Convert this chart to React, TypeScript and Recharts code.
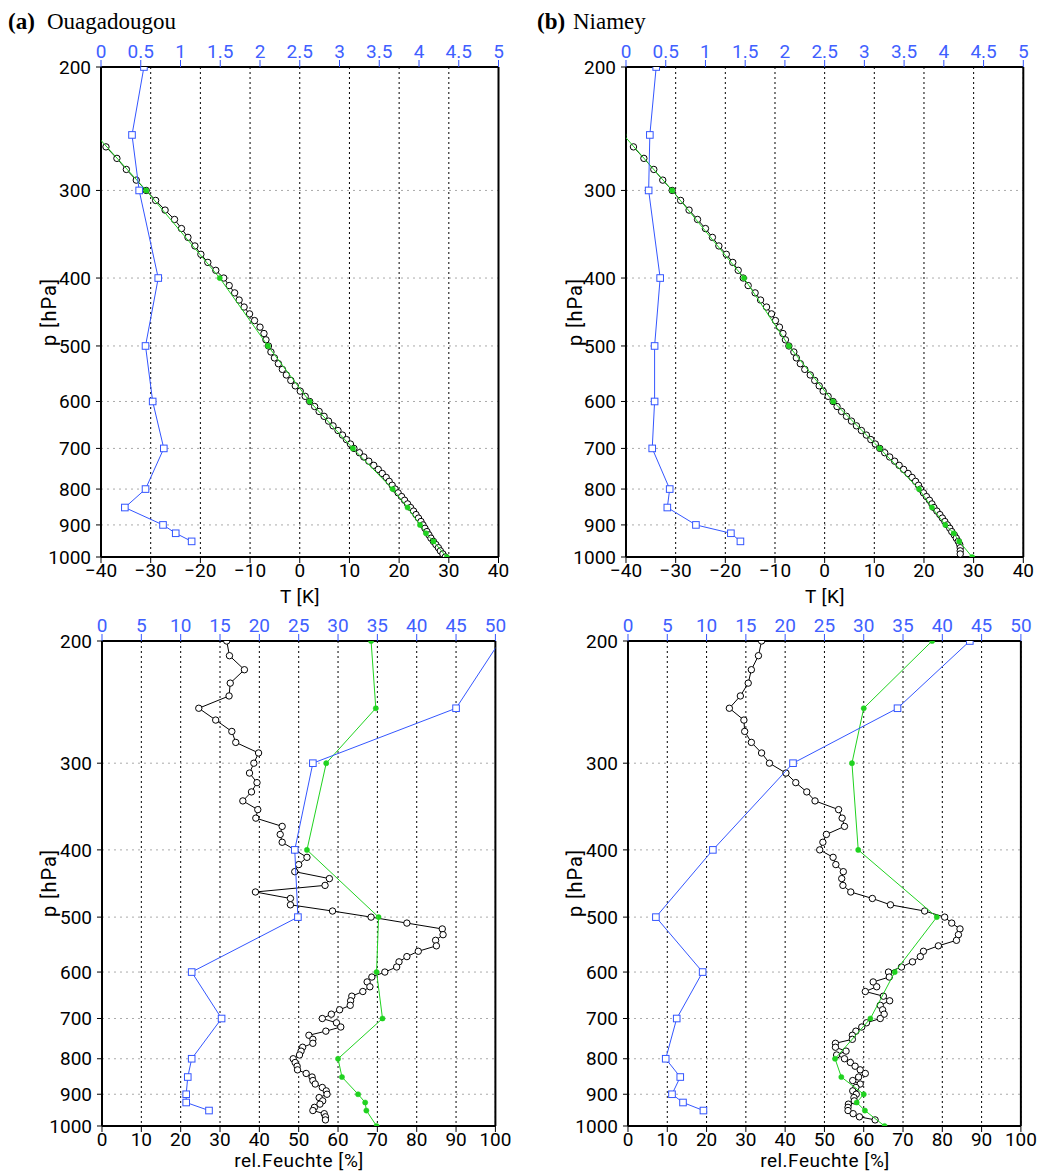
import React from 'react';
import { ScatterChart, Scatter, XAxis, YAxis, CartesianGrid } from 'recharts';

// ---------- ticks ----------
const pTicks = [200, 300, 400, 500, 600, 700, 800, 900, 1000];
const tTicks = [-40, -30, -20, -10, 0, 10, 20, 30, 40];
const qTicks = [0, 0.5, 1, 1.5, 2, 2.5, 3, 3.5, 4, 4.5, 5];
const rhTicks = [0, 10, 20, 30, 40, 50, 60, 70, 80, 90, 100];
const rhTopTicks = [0, 5, 10, 15, 20, 25, 30, 35, 40, 45, 50];

// ---------- pressure levels ----------
const levelsTa = [260,270,280,290,300,310,320,330,340,350,360,370,380,390,400,410,420,430,440,450,460,470,480,490,500,510,520,530,540,550,560,570,580,590,600,610,620,630,640,650,660,670,680,690,700,710,720,730,740,750,760,770,780,790,800,810,820,830,840,850,860,870,880,890,900,910,920,930,940,950,960,970,980,990,1000];
const levelsTb = [260,270,280,290,300,310,320,330,340,350,360,370,380,390,400,410,420,430,440,450,460,470,480,490,500,510,520,530,540,550,560,570,580,590,600,610,620,630,640,650,660,670,680,690,700,710,720,730,740,750,760,770,780,790,800,810,820,830,840,850,860,870,880,890,900,910,920,930,940,950,960,970,980,990];
const levelsRH = [200,210,220,230,240,250,260,270,280,290,300,310,320,330,340,350,360,370,380,390,400,410,420,430,440,450,460,470,480,490,500,510,520,530,540,550,560,570,580,590,600,610,620,630,640,650,660,670,680,690,700,710,720,730,740,750,760,770,780,790,800,810,820,830,840,850,860,870,880,890,900,910,920,930,940,950,960,970,980];
const stdT = [250, 300, 400, 500, 600, 700, 800, 850, 900, 925, 950, 1000];
const stdQ = [200, 250, 300, 400, 500, 600, 700, 800, 850, 900, 925, 950];
const stdRH = [200, 250, 300, 400, 500, 600, 700, 800, 850, 900, 925, 950, 1000];

// ---------- (a) Ouagadougou ----------
const tempA = [
  -39.0,-36.8,-34.9,-32.9,-30.9,-29.0,-27.1,-25.2,-23.8,-22.5,
  -21.1,-19.9,-18.5,-16.9,-15.3,-14.2,-13.1,-12.2,-11.2,-10.1,
  -9.1,-8.0,-7.2,-6.8,-6.3,-5.8,-5.1,-4.3,-3.5,-2.7,
  -1.8,-0.9,0.1,1.1,2.0,3.0,3.9,4.9,5.8,6.7,
  7.7,8.6,9.4,10.2,10.9,12.0,12.9,13.9,14.9,15.8,
  16.6,17.4,18.0,18.6,19.2,19.8,20.5,21.1,21.7,22.3,
  22.9,23.4,23.9,24.4,24.8,25.2,25.6,26.0,26.4,26.9,
  27.4,27.9,28.3,28.8,29.3,
];
const tempStdA = [-41.0, -30.9, -16.1, -6.4, 2.0, 10.7, 18.7, 21.7, 24.2, 25.4, 26.9, 29.6];
const qA = [0.54, 0.39, 0.48, 0.72, 0.56, 0.65, 0.79, 0.56, 0.30, 0.78, 0.94, 1.14];
const rhA = [
  31.7,32.4,36.2,32.6,32.3,24.6,28.9,33.0,34.0,39.8,
  38.6,37.5,39.4,38.0,35.8,39.6,39.1,45.8,45.3,45.8,
  49.0,52.1,50.0,49.0,57.8,56.7,39.0,47.9,47.9,58.6,
  68.4,77.5,86.5,86.7,84.8,85.0,80.4,77.5,75.5,74.9,
  71.9,68.6,67.4,68.1,66.3,63.5,63.2,63.1,60.4,58.3,
  56.0,59.6,60.7,56.9,52.6,53.6,53.6,51.0,50.6,50.2,
  48.6,49.1,49.6,49.7,51.9,53.4,53.6,54.2,56.0,57.0,
  57.2,55.2,56.1,55.4,54.0,53.6,56.5,56.8,56.8,
];
const rhStdA = [68.4, 69.6, 57.0, 52.1, 70.3, 69.8, 71.3, 60.0, 61.0, 65.1, 66.9, 67.2, 69.8];
const rhTopA = [50.6, 45.0, 26.8, 24.5, 24.9, 11.4, 15.2, 11.4, 10.9, 10.7, 10.7, 13.6];

// ---------- (b) Niamey ----------
const tempB = [
  -38.5,-36.4,-34.4,-32.6,-30.7,-29.0,-27.3,-25.6,-24.0,-22.6,
  -21.3,-19.8,-18.5,-17.4,-16.4,-15.4,-14.0,-12.9,-11.7,-10.7,
  -9.9,-9.1,-8.4,-7.9,-7.2,-6.2,-5.7,-4.9,-4.0,-2.9,
  -2.0,-1.1,-0.3,0.7,1.7,2.5,3.4,4.4,5.4,6.4,
  7.4,8.4,9.3,10.2,11.1,12.1,13.1,14.1,15.0,15.9,
  16.8,17.6,18.3,18.9,19.3,19.9,20.5,21.1,21.6,22.0,
  22.6,23.2,23.7,24.2,24.7,25.2,25.6,26.1,26.5,26.9,
  27.2,27.3,27.3,27.3,
];
const tempStdB = [-40.5, -30.7, -16.25, -7.2, 1.7, 11.1, 19.0, 21.6, 24.3, 26.0, 27.1, 29.7];
const qB = [0.38, 0.30, 0.285, 0.43, 0.36, 0.36, 0.33, 0.55, 0.52, 0.88, 1.32, 1.44];
const rhB = [
  34.0,33.2,31.4,30.6,28.6,25.8,29.5,29.7,31.4,34.0,
  36.0,40.2,42.7,45.5,47.6,53.6,54.5,55.1,50.5,49.6,
  48.8,52.2,52.9,54.8,54.4,54.7,56.7,62.2,66.8,75.5,
  80.6,82.4,84.5,84.1,83.6,79.0,75.2,74.4,72.4,69.6,
  66.3,66.5,62.4,63.3,60.4,65.0,66.6,64.2,64.8,65.2,
  64.2,60.7,59.5,58.0,57.1,57.1,52.8,52.8,55.5,53.1,
  55.1,56.6,57.8,59.1,60.4,58.7,57.2,59.1,58.0,57.2,
  58.1,57.5,57.6,56.1,56.0,56.0,57.3,58.9,62.9,
];
const rhStdB = [77.4, 60.0, 57.0, 58.6, 78.6, 67.9, 61.7, 52.7, 54.3, 60.0, 58.2, 60.3, 65.3];
const rhTopB = [43.5, 34.3, 21.0, 10.8, 3.55, 9.5, 6.2, 4.8, 6.65, 5.6, 7.0, 9.6];

// ---------- helpers ----------
const zip = (ps: number[], vs: number[]) => ps.map((p, i) => ({ p, x: vs[i] }));

const BLUE = '#3355ff';
const BLUE_TXT = '#4060ff';
const GREEN = '#1fd21f';
const FONT = 'Roboto, "DejaVu Sans", sans-serif';

const fmt = (v: number) => (v < 0 ? '\u2212' + Math.abs(v) : String(v));

const circleShape = (props: any) => (
  <circle cx={props.cx} cy={props.cy} r={3.2} fill="#fff" stroke="#000" strokeWidth={1} />
);
const dotShape = (props: any) => (
  <circle cx={props.cx} cy={props.cy} r={2.6} fill={GREEN} stroke={GREEN} strokeWidth={0.5} />
);
const squareShape = (props: any) => (
  <rect x={props.cx - 3.3} y={props.cy - 3.3} width={6.6} height={6.6} fill="#fff" stroke={BLUE} strokeWidth={1} />
);

type Box = { l: number; r: number; t: number; b: number };

function Panel(props: {
  box: Box;
  botDomain: [number, number];
  botTicks: number[];
  topDomain: [number, number];
  topTicks: number[];
  black: { p: number; x: number }[];
  green: { p: number; x: number }[];
  blue: { p: number; x: number }[];
}) {
  const { box } = props;
  const ML = 70, MT = 40, MR = 30, MB = 40;
  const YW = 60, XH = 30, RW = 1;
  const w = box.r - box.l;
  const h = box.b - box.t;
  const tickStyle = { fill: '#000', fontSize: 19, fontFamily: FONT };
  return (
    <div style={{ position: 'absolute', left: box.l - ML, top: box.t - MT }}>
      <ScatterChart
        width={w + ML + MR}
        height={h + MT + MB}
        margin={{ top: MT - XH, right: MR - RW, bottom: MB - XH, left: ML - YW }}
      >
        <CartesianGrid xAxisId="bot" yAxisId="p" horizontal={false} stroke="#000" strokeDasharray="2 3" />
        <CartesianGrid xAxisId="bot" yAxisId="p" vertical={false} stroke="#aaa" strokeDasharray="2 4" />
        <XAxis
          xAxisId="bot"
          orientation="bottom"
          type="number"
          dataKey="x"
          domain={props.botDomain}
          ticks={props.botTicks}
          interval={0}
          allowDataOverflow
          height={XH}
          tickSize={6}
          tickMargin={1}
          tickFormatter={fmt}
          tick={tickStyle}
          axisLine={{ stroke: '#000', strokeWidth: 2 }}
          tickLine={{ stroke: '#000' }}
        />
        <XAxis
          xAxisId="top"
          orientation="top"
          type="number"
          dataKey="x"
          domain={props.topDomain}
          ticks={props.topTicks}
          interval={0}
          allowDataOverflow
          height={XH}
          tickSize={7}
          tickMargin={2}
          tick={{ fill: BLUE_TXT, fontSize: 19, fontFamily: FONT }}
          axisLine={{ stroke: '#000', strokeWidth: 2 }}
          tickLine={{ stroke: BLUE }}
        />
        <YAxis
          yAxisId="p"
          orientation="left"
          type="number"
          dataKey="p"
          scale="log"
          domain={[200, 1000]}
          ticks={pTicks}
          interval={0}
          reversed
          allowDataOverflow
          width={YW}
          tickSize={5}
          tickMargin={5}
          tick={tickStyle}
          axisLine={{ stroke: '#000', strokeWidth: 2 }}
          tickLine={{ stroke: '#000' }}
        />
        <YAxis
          yAxisId="r"
          orientation="right"
          type="number"
          dataKey="p"
          scale="log"
          domain={[200, 1000]}
          reversed
          allowDataOverflow
          width={RW}
          tick={false}
          tickLine={false}
          axisLine={{ stroke: '#000', strokeWidth: 2 }}
        />
        <Scatter
          data={props.black}
          xAxisId="bot"
          yAxisId="p"
          line={{ stroke: '#000', strokeWidth: 1 }}
          lineType="joint"
          shape={circleShape}
          isAnimationActive={false}
        />
        <Scatter
          data={props.green}
          xAxisId="bot"
          yAxisId="p"
          line={{ stroke: GREEN, strokeWidth: 1 }}
          lineType="joint"
          shape={dotShape}
          isAnimationActive={false}
        />
        <Scatter
          data={props.blue}
          xAxisId="top"
          yAxisId="p"
          line={{ stroke: BLUE, strokeWidth: 1 }}
          lineType="joint"
          shape={squareShape}
          isAnimationActive={false}
        />
      </ScatterChart>
    </div>
  );
}

const boxAT: Box = { l: 100.5, r: 498, t: 67.3, b: 557.3 };
const boxBT: Box = { l: 626.3, r: 1023.6, t: 67.3, b: 557.3 };
const boxAB: Box = { l: 102, r: 495.4, t: 640.8, b: 1125.8 };
const boxBB: Box = { l: 628.4, r: 1021.3, t: 640.8, b: 1125.8 };

export default function App() {
  const tlab = { fontFamily: FONT, fontSize: 19, fill: '#000', letterSpacing: 0.5 } as const;
  const rlab = { fontFamily: FONT, fontSize: 19, fill: '#000', letterSpacing: 0.5 } as const;
  const plab = { fontFamily: FONT, fontSize: 20, fill: '#000', letterSpacing: 1 } as const;
  const serif = '"Liberation Serif", "Times New Roman", serif';
  return (
    <div style={{ position: 'absolute', left: 0, top: 0, width: 1041, height: 1173, background: '#fff', overflow: 'hidden' }}>
      <svg width={1041} height={1173} style={{ position: 'absolute', left: 0, top: 0 }}>
        <text x={8} y={29} fontFamily={serif} fontSize={23} fontWeight="bold">(a)</text>
        <text x={47} y={29} fontFamily={serif} fontSize={23}>Ouagadougou</text>
        <text x={537} y={29} fontFamily={serif} fontSize={23} fontWeight="bold">(b)</text>
        <text x={573} y={29} fontFamily={serif} fontSize={23}>Niamey</text>

        <text transform="translate(56,312) rotate(-90)" textAnchor="middle" {...plab}>p [hPa]</text>
        <text transform="translate(582,312) rotate(-90)" textAnchor="middle" {...plab}>p [hPa]</text>
        <text transform="translate(56,883) rotate(-90)" textAnchor="middle" {...plab}>p [hPa]</text>
        <text transform="translate(582,883) rotate(-90)" textAnchor="middle" {...plab}>p [hPa]</text>

        <text x={300} y={603} textAnchor="middle" {...tlab}>T [K]</text>
        <text x={825} y={603} textAnchor="middle" {...tlab}>T [K]</text>
        <text x={299} y={1167} textAnchor="middle" {...rlab}>rel.Feuchte [%]</text>
        <text x={825} y={1167} textAnchor="middle" {...rlab}>rel.Feuchte [%]</text>
      </svg>

      <Panel
        box={boxAT}
        botDomain={[-40, 40]}
        botTicks={tTicks}
        topDomain={[0, 5]}
        topTicks={qTicks}
        black={zip(levelsTa, tempA)}
        green={zip(stdT, tempStdA)}
        blue={zip(stdQ, qA)}
      />
      <Panel
        box={boxBT}
        botDomain={[-40, 40]}
        botTicks={tTicks}
        topDomain={[0, 5]}
        topTicks={qTicks}
        black={zip(levelsTb, tempB)}
        green={zip(stdT, tempStdB)}
        blue={zip(stdQ, qB)}
      />
      <Panel
        box={boxAB}
        botDomain={[0, 100]}
        botTicks={rhTicks}
        topDomain={[0, 50]}
        topTicks={rhTopTicks}
        black={zip(levelsRH, rhA)}
        green={zip(stdRH, rhStdA)}
        blue={zip(stdQ, rhTopA)}
      />
      <Panel
        box={boxBB}
        botDomain={[0, 100]}
        botTicks={rhTicks}
        topDomain={[0, 50]}
        topTicks={rhTopTicks}
        black={zip(levelsRH, rhB)}
        green={zip(stdRH, rhStdB)}
        blue={zip(stdQ, rhTopB)}
      />
    </div>
  );
}
